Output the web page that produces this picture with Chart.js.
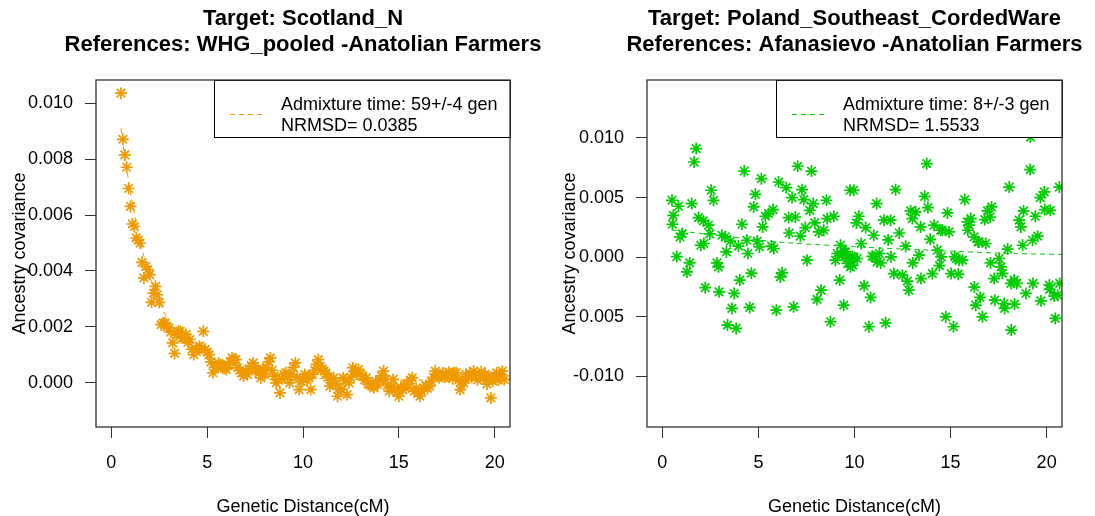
<!DOCTYPE html>
<html>
<head>
<meta charset="utf-8">
<script src="https://cdn.jsdelivr.net/npm/chart.js@4.4.1/dist/chart.umd.min.js"></script>
<style>
  html, body { margin: 0; padding: 0; background: #fff; }
  #wrap { position: relative; width: 1095px; height: 516px; }
  canvas { position: absolute; top: 0; }
  #scotland { left: 0; }
  #poland { left: 547px; }
</style>
</head>
<body>
<div id="wrap">
  <canvas id="scotland" width="547" height="516"></canvas>
  <canvas id="poland" width="548" height="516"></canvas>
</div>
<script>
// left panel: covariance per 0.1 cM bin, starting at 0.5 cM
var leftStart = 0.5, leftStep = 0.1;
var leftCov = [
  0.01036, 0.00871, 0.00815, 0.00771, 0.00695, 0.00631, 0.00568, 0.00559, 0.00518, 0.00510,
  0.00500, 0.00431, 0.00375, 0.00416, 0.00405, 0.00387, 0.00288, 0.00321, 0.00345, 0.00315,
  0.00288, 0.00208, 0.00214, 0.00214, 0.00200, 0.00196, 0.00181, 0.00143, 0.00105, 0.00170,
  0.00184, 0.00184, 0.00161, 0.00161, 0.00173, 0.00145, 0.00155, 0.00120, 0.00101, 0.00119,
  0.00119, 0.00131, 0.00125, 0.00184, 0.00119, 0.00110, 0.00101, 0.00075, 0.00036, 0.00055,
  0.00059, 0.00070, 0.00065, 0.00060, 0.00052, 0.00048, 0.00062, 0.00075, 0.00089, 0.00083,
  0.00083, 0.00054, 0.00045, 0.00035, 0.00024, 0.00040, 0.00030, 0.00050, 0.00062, 0.00071,
  0.00048, 0.00048, 0.00035, 0.00018, 0.00048, 0.00030, 0.00055, 0.00075, 0.00089, 0.00045,
  0.00024, 0.00000, 0.00010, -0.00036, 0.00015, 0.00030, 0.00036, 0.00020, 0.00000, 0.00030,
  0.00055, 0.00071, 0.00020, -0.00024, 0.00005, 0.00012, 0.00030, 0.00012, 0.00018, -0.00024,
  0.00030, 0.00045, 0.00066, 0.00083, 0.00059, 0.00050, 0.00042, 0.00035, 0.00020, -0.00012,
  0.00010, 0.00018, -0.00005, -0.00048, -0.00020, -0.00024, 0.00018, 0.00010, -0.00042, 0.00000,
  0.00020, 0.00054, 0.00042, 0.00035, 0.00048, 0.00030, 0.00025, 0.00010, 0.00018, -0.00005,
  -0.00006, -0.00010, -0.00018, 0.00005, -0.00006, 0.00010, 0.00025, 0.00042, 0.00012, -0.00010,
  -0.00030, -0.00015, 0.00012, -0.00020, -0.00035, -0.00048, -0.00018, -0.00025, -0.00010, -0.00006,
  -0.00015, 0.00010, 0.00018, -0.00030, -0.00020, -0.00038, -0.00048, -0.00030, -0.00018, -0.00010,
  -0.00020, -0.00012, 0.00005, 0.00020, 0.00042, 0.00030, 0.00018, 0.00025, 0.00035, 0.00020,
  0.00024, 0.00038, 0.00030, 0.00015, 0.00036, 0.00036, 0.00010, -0.00024, 0.00005, 0.00000,
  0.00030, 0.00018, 0.00035, 0.00020, 0.00042, 0.00030, 0.00010, 0.00024, 0.00040, 0.00015,
  0.00030, -0.00005, 0.00020, -0.00054, 0.00006, 0.00025, 0.00036, 0.00010, 0.00030, 0.00042,
  0.00012
];
// fitted decay curve
var leftFitDist = [0.5, 0.6, 1, 1.5, 2, 2.5, 3, 3.5, 4, 5, 6, 7, 8, 10, 13, 16, 20.8];
var leftFitCov = [0.0091, 0.0086, 0.0068, 0.0051, 0.0038, 0.0029, 0.0022, 0.0017, 0.0013, 0.00085, 0.0006, 0.00042, 0.0003, 0.00018, 0.00012, 0.0001, 0.0001];

// right panel
var rightDist = [
  0.5, 0.52, 0.57, 0.75, 0.84, 0.92, 1.03, 1.28, 1.42, 1.53, 1.65, 1.76, 1.88, 2.0, 2.14, 2.16,
  2.23, 2.4, 2.47, 2.54, 2.66, 2.84, 2.92, 2.95, 3.1, 3.27, 3.33, 3.39, 3.53, 3.62, 3.74, 3.84,
  3.96, 4.03, 4.14, 4.26, 4.4, 4.45, 4.54, 4.63, 4.75, 4.84, 4.94, 5.05, 5.15, 5.22, 5.36, 5.53,
  5.68, 5.76, 5.8, 5.93, 6.05, 6.14, 6.23, 6.45, 6.57, 6.6, 6.75, 6.83, 6.92, 7.04, 7.18, 7.27,
  7.36, 7.44, 7.53, 7.67, 7.76, 7.85, 7.93, 8.05, 8.14, 8.26, 8.4, 8.54, 8.58, 8.75, 8.92, 9.01,
  9.1, 9.23, 9.27, 9.36, 9.44, 9.46, 9.54, 9.62, 9.64, 9.77, 9.79, 9.88, 9.9, 9.96, 9.98, 10.1,
  10.14, 10.22, 10.35, 10.5, 10.58, 10.75, 10.84, 10.92, 11.0, 11.02, 11.15, 11.18, 11.3, 11.36, 11.53, 11.62,
  11.75, 11.88, 11.9, 12.05, 12.14, 12.33, 12.49, 12.66, 12.75, 12.83, 12.92, 13.01, 13.03, 13.18, 13.36, 13.44,
  13.46, 13.65, 13.76, 13.82, 13.94, 14.05, 14.14, 14.31, 14.42, 14.49, 14.51, 14.57, 14.75, 14.84, 14.92, 15.03,
  15.15, 15.22, 15.3, 15.4, 15.44, 15.62, 15.74, 15.88, 15.9, 15.96, 16.05, 16.22, 16.24, 16.31, 16.43, 16.48,
  16.54, 16.66, 16.78, 16.83, 16.92, 17.06, 17.08, 17.13, 17.27, 17.3, 17.53, 17.63, 17.7, 17.79, 17.81, 17.97,
  18.05, 18.14, 18.16, 18.31, 18.33, 18.45, 18.57, 18.66, 18.75, 18.8, 18.92, 19.14, 19.16, 19.27, 19.29, 19.41,
  19.53, 19.67, 19.7, 19.88, 19.9, 20.14, 20.16, 20.19, 20.4, 20.45, 20.57, 20.66, 20.68
];
var rightCov = [
  0.00477, 0.00276, 0.00351, 0.00005, 0.00427, 0.00170, 0.00198, -0.00123, -0.00048, 0.00449, 0.00798, 0.00910, 0.00332, 0.00100, 0.00304, 0.00115,
  -0.00255, 0.00268, 0.00195, 0.00561, 0.00477, -0.00048, -0.00081, -0.00290, 0.00184, 0.00170, 0.00044, -0.00569, 0.00135, -0.00429, -0.00304, -0.00597,
  0.00093, -0.00192, 0.00276, 0.00722, 0.00142, 0.00031, -0.00421, -0.00134, 0.00421, 0.00527, 0.00135, 0.00086, 0.00658, 0.00254, 0.00343, 0.00366,
  0.00093, 0.00399, 0.00073, -0.00444, 0.00630, -0.00165, -0.00131, 0.00583, 0.00332, 0.00203, 0.00500, -0.00416, 0.00337, 0.00762, 0.00176, 0.00566,
  0.00483, 0.00248, -0.00025, 0.00393, 0.00722, 0.00449, 0.00287, -0.00354, 0.00212, -0.00276, 0.00226, 0.00477, 0.00324, -0.00541, 0.00343, -0.00025,
  0.00031, -0.00192, 0.00100, 0.00017, -0.00402, 0.00044, 0.00045, -0.00011, -0.00053, 0.00561, -0.00081, 0.00003, -0.00067, 0.00561, -0.00003, 0.00287,
  -0.00011, 0.00343, 0.00115, -0.00240, 0.00248, -0.00583, -0.00337, 0.00008, 0.00184, 0.00003, 0.00449, -0.00039, 0.00031, -0.00048, 0.00310, -0.00550,
  0.00145, 0.00310, 0.00003, -0.00137, 0.00566, 0.00203, -0.00151, 0.00092, -0.00200, -0.00276, 0.00388, 0.00324, -0.00048, 0.00379, 0.00017, 0.00254,
  -0.00179, 0.00510, 0.00784, 0.00416, 0.00150, -0.00137, 0.00268, 0.00060, -0.00070, 0.00226, 0.00003, 0.00226, -0.00500, 0.00371, 0.00212, -0.00137,
  -0.00583, 0.00005, -0.00011, -0.00142, -0.00025, -0.00025, 0.00483, 0.00296, 0.00226, 0.00268, 0.00324, 0.00170, -0.00250, -0.00402, 0.00128, 0.00128,
  -0.00337, -0.00500, 0.00315, 0.00115, 0.00388, 0.00337, -0.00048, 0.00421, -0.00179, -0.00360, -0.00011, -0.00081, -0.00135, -0.00388, -0.00429, 0.00068,
  0.00588, -0.00220, -0.00611, -0.00192, -0.00393, -0.00220, 0.00310, 0.00254, 0.00100, 0.00388, -0.00304, 0.00734, 0.01007, 0.00142, -0.00220, 0.00343,
  0.00176, 0.00500, -0.00366, 0.00547, 0.00399, -0.00234, -0.00270, 0.00393, -0.00326, -0.00513, -0.00318, 0.00588, -0.00220
];
var rightFitDist = [0.5, 3, 6, 10, 14, 18, 20.8];
var rightFitCov = [0.00228, 0.0018, 0.00128, 0.00088, 0.00058, 0.00032, 0.00023];

var ORANGE = '#EE9A00', GREEN = '#00CD00';
var FONT = '"Liberation Sans", Arial, Helvetica, sans-serif';
Chart.defaults.font.family = FONT;
Chart.defaults.color = '#000';

function pairs(xs, ys) {
  var out = [];
  for (var i = 0; i < ys.length; i++) out.push({x: xs[i], y: ys[i]});
  return out;
}

var leftDist = [];
for (var i = 0; i < leftCov.length; i++) leftDist.push(+(leftStart + i * leftStep).toFixed(1));

// two line bold title centred over the plot, not squeezed to its width
var plotTitle = {
  id: 'plotTitle',
  afterDraw: function(chart, args, opts) {
    var a = chart.chartArea, c = chart.ctx;
    var cx = (a.left + a.right) / 2;
    c.save();
    c.font = 'bold 22px ' + FONT;
    c.fillStyle = '#000';
    c.textAlign = 'center';
    c.textBaseline = 'middle';
    c.fillText(opts.lines[0], cx, 19);
    c.fillText(opts.lines[1], cx, 45);
    c.restore();
  }
};

// box around the plot region plus the R style legend
var boxLegend = {
  id: 'boxLegend',
  afterDatasetsDraw: function(chart, args, opts) {
    var a = chart.chartArea, c = chart.ctx;
    c.save();
    c.font = '18px ' + FONT;
    var tw = Math.max(c.measureText(opts.lines[0]).width, c.measureText(opts.lines[1]).width);
    var lw = Math.round(67 + tw + 12), lh = 57;
    var lx = Math.round(a.right - lw), ly = Math.round(a.top);
    c.fillStyle = '#fff';
    c.fillRect(lx, ly, lw, lh);
    c.strokeStyle = '#000';
    c.lineWidth = 1;
    c.strokeRect(lx + 0.5, ly + 0.5, lw, lh);
    c.strokeStyle = opts.color;
    c.setLineDash([5, 4]);
    c.beginPath();
    c.moveTo(lx + 16, ly + 34.5);
    c.lineTo(lx + 50, ly + 34.5);
    c.stroke();
    c.setLineDash([]);
    c.fillStyle = '#000';
    c.textAlign = 'left';
    c.textBaseline = 'middle';
    c.fillText(opts.lines[0], lx + 67, ly + 25);
    c.fillText(opts.lines[1], lx + 67, ly + 46);
    c.strokeStyle = '#333';
    c.lineWidth = 1.3;
    c.strokeRect(a.left, a.top, a.right - a.left, a.bottom - a.top);
    c.restore();
  }
};

function makeChart(id, cfg) {
  var ctx = document.getElementById(id).getContext('2d');
  var tickFont = {size: 18, lineHeight: 1.2};
  return new Chart(ctx, {
    type: 'scatter',
    data: {
      datasets: [
        {
          data: cfg.fit,
          showLine: true,
          borderColor: cfg.color,
          borderWidth: 1,
          borderDash: [5, 4],
          pointRadius: 0,
          cubicInterpolationMode: 'monotone',
          order: 0
        },
        {
          data: cfg.points,
          pointStyle: 'star',
          pointRadius: 6,
          borderColor: cfg.color,
          backgroundColor: cfg.color,
          pointBorderWidth: 1.7,
          order: 1
        }
      ]
    },
    options: {
      responsive: false,
      animation: false,
      events: [],
      layout: {padding: {left: 0, right: cfg.rightPad, top: 80, bottom: 0}},
      plugins: {
        legend: {display: false},
        tooltip: {enabled: false},
        title: {display: false},
        plotTitle: {lines: cfg.title},
        boxLegend: {lines: cfg.legend, color: cfg.color}
      },
      scales: {
        x: {
          type: 'linear',
          min: -0.8,
          max: 20.8,
          afterBuildTicks: function(s) { s.ticks = [0, 5, 10, 15, 20].map(function(v) { return {value: v}; }); },
          afterFit: function(s) { s.height = 89; },
          ticks: {font: tickFont, color: '#000', padding: 14, autoSkip: false, maxRotation: 0,
                  callback: function(v) { return String(v); }},
          grid: {drawOnChartArea: false, drawTicks: true, tickLength: 11, color: '#333'},
          border: {display: false},
          title: {display: true, text: 'Genetic Distance(cM)', color: '#000', font: tickFont, padding: {top: 0, bottom: -1.5}}
        },
        y: {
          type: 'linear',
          min: cfg.yMin,
          max: cfg.yMax,
          afterBuildTicks: function(s) { s.ticks = cfg.yTicks.map(function(v) { return {value: v}; }); },
          afterFit: function(s) { s.width = cfg.yWidth; },
          ticks: {font: tickFont, color: '#000', padding: 12, autoSkip: false, callback: cfg.yLabel},
          grid: {drawOnChartArea: false, drawTicks: true, tickLength: 11, color: '#333'},
          border: {display: false},
          title: {display: true, text: 'Ancestry covariance', color: '#000', font: tickFont, padding: {top: cfg.yTitlePad, bottom: 0}}
        }
      }
    },
    plugins: [boxLegend, plotTitle]
  });
}

makeChart('scotland', {
  title: ['Target: Scotland_N', 'References: WHG_pooled -Anatolian Farmers'],
  legend: ['Admixture time: 59+/-4 gen', 'NRMSD= 0.0385'],
  color: ORANGE,
  points: pairs(leftDist, leftCov),
  fit: pairs(leftFitDist, leftFitCov),
  yMin: -0.00158, yMax: 0.01083,
  yTicks: [0, 0.002, 0.004, 0.006, 0.008, 0.010],
  yLabel: function(v) { return v.toFixed(3); },
  yWidth: 96, yTitlePad: 9.2, rightPad: 37
});

makeChart('poland', {
  title: ['Target: Poland_Southeast_CordedWare', 'References: Afanasievo -Anatolian Farmers'],
  legend: ['Admixture time: 8+/-3 gen', 'NRMSD= 1.5533'],
  color: GREEN,
  points: pairs(rightDist, rightCov),
  fit: pairs(rightFitDist, rightFitCov),
  yMin: -0.01423, yMax: 0.01485,
  yTicks: [-0.010, -0.005, 0, 0.005, 0.010],
  // the source shows the -0.005 label without its minus sign
  yLabel: function(v) { return v === -0.005 ? '0.005' : v.toFixed(3); },
  yWidth: 100, yTitlePad: 12.2, rightPad: 33
});
</script>
</body>
</html>
